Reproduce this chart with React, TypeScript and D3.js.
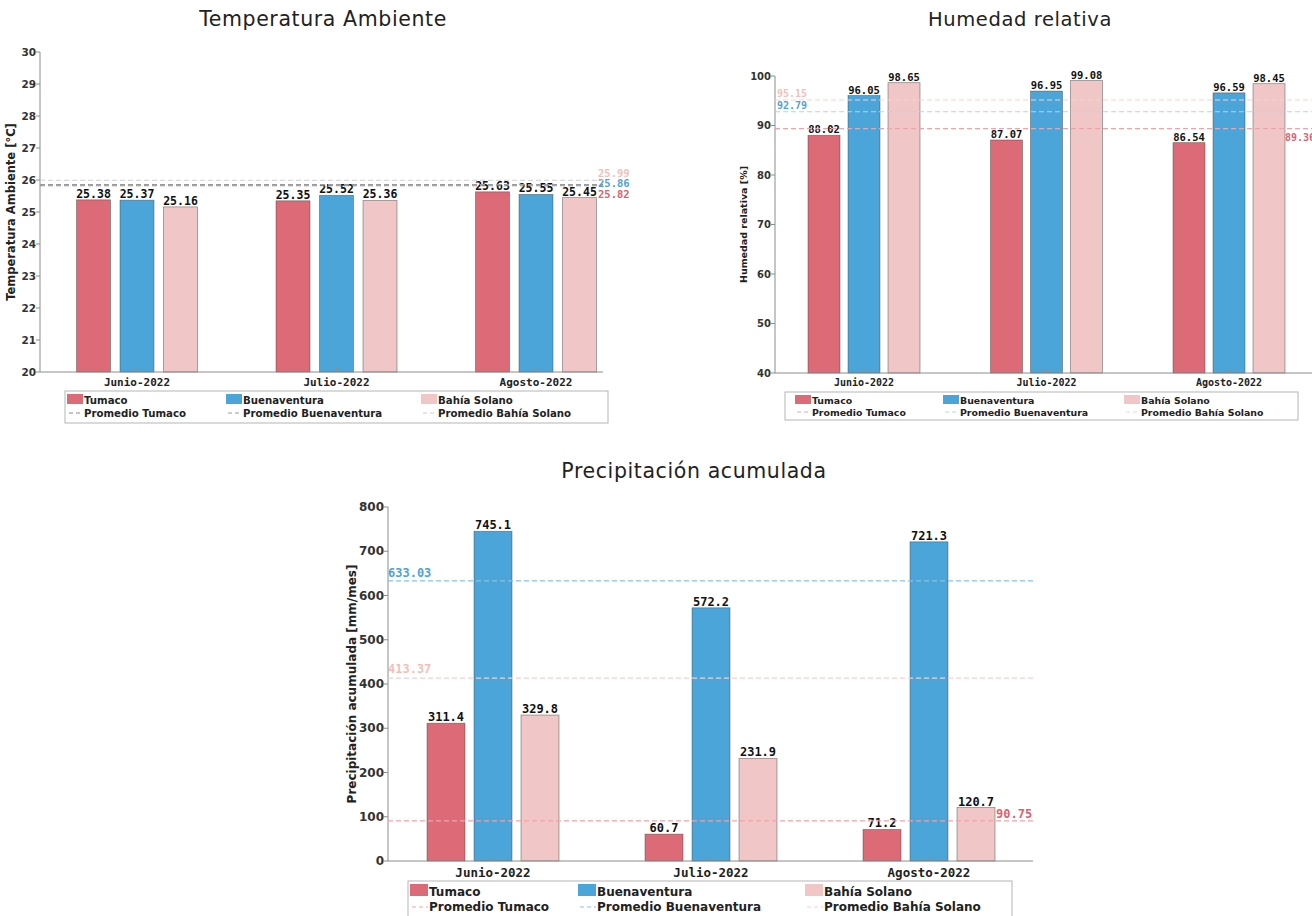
import React, { useEffect } from 'react';
import * as d3 from 'd3';

// Datos
const months = ['Junio-2022', 'Julio-2022', 'Agosto-2022'];
const stations = ['Tumaco', 'Buenaventura', 'Bahía Solano'];
const meanNames = ['Promedio Tumaco', 'Promedio Buenaventura', 'Promedio Bahía Solano'];

const tempTumaco = [25.38, 25.35, 25.63];
const tempBuenaventura = [25.37, 25.52, 25.55];
const tempBahia = [25.16, 25.36, 25.45];
const tempMeans = [25.82, 25.86, 25.99];
const tempTicks = [20, 21, 22, 23, 24, 25, 26, 27, 28, 29, 30];

const humTumaco = [88.02, 87.07, 86.54];
const humBuenaventura = [96.05, 96.95, 96.59];
const humBahia = [98.65, 99.08, 98.45];
const humMeans = [89.36, 92.79, 95.15];
const humTicks = [40, 50, 60, 70, 80, 90, 100];

const precTumaco = [311.4, 60.7, 71.2];
const precBuenaventura = [745.1, 572.2, 721.3];
const precBahia = [329.8, 231.9, 120.7];
const precMeans = [90.75, 633.03, 413.37];
const precTicks = [0, 100, 200, 300, 400, 500, 600, 700, 800];

const barColors = ['#dc6a77', '#4ba5d9', '#f0c7c6'];
const labelColors = ['#dd5f70', '#4ea3d8', '#f3bfb8'];

const MONO = '"DejaVu Sans Mono", monospace';
const SANS = '"DejaVu Sans", sans-serif';

interface PanelProps {
  title: string;
  titleX: number;
  titleY: number;
  titleSize: number;
  yLabel: string;
  yLabelX: number;
  series: number[][];
  means: number[];
  decimals: number;
  ticks: number[];
  yDomain: [number, number];
  yRange: [number, number];
  xAxis: [number, number];
  centers: [number, number];
  barW: number;
  barStep: number;
  fs: { tick: number; value: number; month: number; legend: number; axis: number; mean: number };
  meanColors: string[];
  meanLabels: { x: number; dy: number }[];
  legend: { x0: number; x1: number; y: number; h: number; cols: number[]; sw: number; row: number };
}

const Panel: React.FC<PanelProps> = (p) => {
  const y = d3.scaleLinear().domain(p.yDomain).range(p.yRange);
  const x = d3.scalePoint<string>().domain(months).range(p.centers);
  const base = p.yRange[0];
  const axisColor = '#8c8c8c';
  const L = p.legend;

  return (
    <g>
      <text x={p.titleX} y={p.titleY} textAnchor="middle" fontFamily={SANS} letterSpacing={0.6}
        fontSize={p.titleSize} fill="#222">{p.title}</text>

      {/* eje y */}
      <line x1={p.xAxis[0]} x2={p.xAxis[0]} y1={y(p.yDomain[1])} y2={base} stroke={axisColor} />
      {p.ticks.map(t => (
        <g key={t}>
          <line x1={p.xAxis[0] - 4} x2={p.xAxis[0]} y1={y(t)} y2={y(t)} stroke={axisColor} />
          <text x={p.xAxis[0] - 4} y={y(t)} dy="0.35em" textAnchor="end" fontFamily={SANS}
            fontWeight="bold" fontSize={p.fs.tick} fill="#333">{t}</text>
        </g>
      ))}
      <text transform={`translate(${p.yLabelX},${(y(p.yDomain[1]) + base) / 2}) rotate(-90)`}
        textAnchor="middle" fontFamily={SANS} fontWeight="bold" fontSize={p.fs.axis} fill="#222">{p.yLabel}</text>

      {/* barras */}
      {months.map((m, i) => (
        <g key={m}>
          {p.series.map((s, k) => {
            const cx = (x(m) as number) + (k - 1) * p.barStep;
            return (
              <g key={k}>
                <rect x={cx - p.barW / 2} y={y(s[i])} width={p.barW} height={base - y(s[i])}
                  fill={barColors[k]} stroke="#444" strokeOpacity={0.55} strokeWidth={0.8} />
                <text x={cx} y={y(s[i]) - 2} textAnchor="middle" fontFamily={MONO} fontWeight="bold"
                  fontSize={p.fs.value} fill="#111">{s[i].toFixed(p.decimals)}</text>
              </g>
            );
          })}
          <line x1={x(m)} x2={x(m)} y1={base} y2={base - 4} stroke={axisColor} />
          <text x={x(m)} y={base + p.fs.month + 3} textAnchor="middle" fontFamily={MONO} fontWeight="bold"
            fontSize={p.fs.month} fill="#222">{m}</text>
        </g>
      ))}

      {/* promedios */}
      {p.means.map((v, k) => (
        <g key={k}>
          <line x1={p.xAxis[0]} x2={p.xAxis[1]} y1={y(v)} y2={y(v)} stroke={p.meanColors[k]}
            strokeWidth={1.1} strokeDasharray="5,3" />
          <text x={p.meanLabels[k].x} y={y(v) + p.meanLabels[k].dy}
            fontFamily={MONO} fontWeight="bold" fontSize={p.fs.mean} fill={labelColors[k]}>{v.toFixed(2)}</text>
        </g>
      ))}

      <line x1={p.xAxis[0]} x2={p.xAxis[1]} y1={base} y2={base} stroke={axisColor} />

      {/* leyenda */}
      <rect x={L.x0} y={L.y} width={L.x1 - L.x0} height={L.h} fill="#fff" stroke="#b5b5b5" />
      {stations.map((s, k) => (
        <g key={s}>
          <rect x={L.cols[k]} y={L.y + 3} width={L.sw} height={L.row - 3} fill={barColors[k]} />
          <text x={L.cols[k] + L.sw + 1} y={L.y + L.row} fontFamily={SANS} fontWeight="bold"
            fontSize={p.fs.legend} fill="#222">{s}</text>
          <line x1={L.cols[k] + 2} x2={L.cols[k] + L.sw} y1={L.y + L.row * 2 - 4} y2={L.y + L.row * 2 - 4}
            stroke={p.meanColors[k]} strokeDasharray="4,3" />
          <text x={L.cols[k] + L.sw + 1} y={L.y + L.row * 2} fontFamily={SANS} fontWeight="bold"
            fontSize={p.fs.legend} fill="#222">{meanNames[k]}</text>
        </g>
      ))}
    </g>
  );
};

export default function App() {
  useEffect(() => {
    document.body.style.margin = '0';
  }, []);

  return (
    <svg width={1312} height={916} style={{ display: 'block', background: '#fff' }}>
      <Panel
        title="Temperatura Ambiente" titleX={323} titleY={26} titleSize={20.5}
        yLabel="Temperatura Ambiente [°C]" yLabelX={15}
        series={[tempTumaco, tempBuenaventura, tempBahia]} means={tempMeans} decimals={2}
        ticks={tempTicks} yDomain={[20, 30]} yRange={[372, 52]} xAxis={[40, 603]} centers={[137, 536]}
        barW={34} barStep={43.5}
        fs={{ tick: 10.5, value: 11.5, month: 11, legend: 10.2, axis: 11.5, mean: 10.5 }}
        meanColors={['#8a8a8a', '#9a9a9a', '#cfcfcf']}
        meanLabels={[{ x: 598, dy: 12.5 }, { x: 598, dy: 2.5 }, { x: 598, dy: -3.5 }]}
        legend={{ x0: 65, x1: 608, y: 391, h: 32, cols: [67, 226, 421], sw: 16, row: 13 }}
      />
      <Panel
        title="Humedad relativa" titleX={1020} titleY={26} titleSize={19.5}
        yLabel="Humedad relativa [%]" yLabelX={747}
        series={[humTumaco, humBuenaventura, humBahia]} means={humMeans} decimals={2}
        ticks={humTicks} yDomain={[40, 100]} yRange={[373, 76]} xAxis={[775, 1312]} centers={[864, 1229]}
        barW={32} barStep={40}
        fs={{ tick: 10, value: 10.5, month: 10, legend: 9.4, axis: 9.5, mean: 10 }}
        meanColors={['#eea3ab', '#b0d6ef', '#f6d3cc']}
        meanLabels={[{ x: 1285, dy: 12 }, { x: 777, dy: -3 }, { x: 777, dy: -3.5 }]}
        legend={{ x0: 785, x1: 1298, y: 392, h: 28, cols: [795, 943, 1124], sw: 16, row: 12 }}
      />
      <Panel
        title="Precipitación acumulada" titleX={694} titleY={478} titleSize={20.5}
        yLabel="Precipitación acumulada [mm/mes]" yLabelX={356}
        series={[precTumaco, precBuenaventura, precBahia]} means={precMeans} decimals={1}
        ticks={precTicks} yDomain={[0, 800]} yRange={[861, 507]} xAxis={[388, 1033]} centers={[493, 929]}
        barW={38} barStep={47}
        fs={{ tick: 12, value: 12, month: 12.5, legend: 12, axis: 12, mean: 12 }}
        meanColors={['#eea3ab', '#86c1e8', '#f4d0cd']}
        meanLabels={[{ x: 996, dy: -3 }, { x: 388, dy: -4 }, { x: 388, dy: -5 }]}
        legend={{ x0: 408, x1: 1012, y: 881, h: 36, cols: [410, 578, 805], sw: 18, row: 15 }}
      />
    </svg>
  );
}
